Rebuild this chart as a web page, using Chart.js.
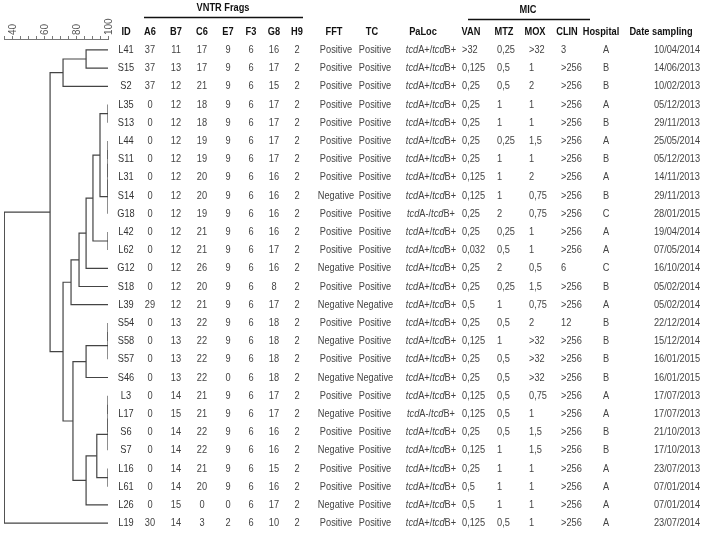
<!DOCTYPE html>
<html>
<head>
<meta charset="utf-8">
<script src="https://cdn.jsdelivr.net/npm/chart.js@4.4.0/dist/chart.umd.min.js"></script>
<style>
body { margin: 0; background: #fff; }
#wrap { width: 702px; height: 534px; }
</style>
</head>
<body>
<div id="wrap"><canvas id="dendro" width="702" height="534"></canvas></div>
<script>
// isolates, top to bottom
const ids = ["L41","S15","S2","L35","S13","L44","S11","L31","S14","G18","L42","L62","G12","S18","L39",
    "S54","S58","S57","S46","L3","L17","S6","S7","L16","L61","L26","L19"];

// VNTR fragments
const a6 = [37,37,37,0,0,0,0,0,0,0,0,0,0,0,29,0,0,0,0,0,0,0,0,0,0,0,30];
const b7 = [11,13,12,12,12,12,12,12,12,12,12,12,12,12,12,13,13,13,13,14,15,14,14,14,14,15,14];
const c6 = [17,17,21,18,18,19,19,20,20,19,21,21,26,20,21,22,22,22,22,21,21,22,22,21,20,0,3];
const e7 = [9,9,9,9,9,9,9,9,9,9,9,9,9,9,9,9,9,9,0,9,9,9,9,9,9,0,2];
const f3 = [6,6,6,6,6,6,6,6,6,6,6,6,6,6,6,6,6,6,6,6,6,6,6,6,6,6,6];
const g8 = [16,17,15,17,17,17,17,16,16,16,16,17,16,8,17,18,18,18,18,17,17,16,16,15,16,17,10];
const h9 = [2,2,2,2,2,2,2,2,2,2,2,2,2,2,2,2,2,2,2,2,2,2,2,2,2,2,2];

const fft = ["Positive","Positive","Positive","Positive","Positive","Positive","Positive","Positive","Negative",
    "Positive","Positive","Positive","Negative","Positive","Negative","Positive","Negative","Positive","Negative",
    "Positive","Negative","Positive","Negative","Positive","Positive","Negative","Positive"];
const tc = ["Positive","Positive","Positive","Positive","Positive","Positive","Positive","Positive","Positive",
    "Positive","Positive","Positive","Positive","Positive","Negative","Positive","Positive","Positive","Negative",
    "Positive","Positive","Positive","Positive","Positive","Positive","Positive","Positive"];
const tcdA = ["+","+","+","+","+","+","+","+","+","-","+","+","+","+","+","+","+","+","+","+","-","+","+","+","+","+","+"];
const tcdB = ["+","+","+","+","+","+","+","+","+","+","+","+","+","+","+","+","+","+","+","+","+","+","+","+","+","+","+"];

// MIC
const van = [">32","0,125","0,25","0,25","0,25","0,25","0,25","0,125","0,125","0,25","0,25","0,032","0,25","0,25",
    "0,5","0,25","0,125","0,25","0,25","0,125","0,125","0,25","0,125","0,25","0,5","0,5","0,125"];
const mtz = ["0,25","0,5","0,5","1","1","0,25","1","1","1","2","0,25","0,5","2","0,25","1","0,5","1","0,5","0,5",
    "0,5","0,5","0,5","1","1","1","1","0,5"];
const mox = [">32","1","2","1","1","1,5","1","2","0,75","0,75","1","1","0,5","1,5","0,75","2",">32",">32",">32",
    "0,75","1","1,5","1,5","1","1","1","1"];
const clin = ["3",">256",">256",">256",">256",">256",">256",">256",">256",">256",">256",">256","6",">256",">256",
    "12",">256",">256",">256",">256",">256",">256",">256",">256",">256",">256",">256"];
const hospital = ["A","B","B","A","B","A","B","A","B","C","A","A","C","B","A","B","B","B","B","A","A","B","B","A","A","A","A"];
const dates = ["10/04/2014","14/06/2013","10/02/2013","05/12/2013","29/11/2013","25/05/2014","05/12/2013","14/11/2013",
    "29/11/2013","28/01/2015","19/04/2014","07/05/2014","16/10/2014","05/02/2014","05/02/2014","22/12/2014",
    "15/12/2014","16/01/2015","16/01/2015","17/07/2013","17/07/2013","21/10/2013","17/10/2013","23/07/2013",
    "07/01/2014","07/01/2014","23/07/2014"];

// dendrogram merges, hclust style: negative = leaf number (1-based), positive = earlier merge
const mergeA = [-4,-6, 2, 3, 4,-11,-16, 7,-20, 9,10,-24,-1, 1,14,15,16,17, 8,11,20,19,18,13,24,25];
const mergeB = [-5,-7,-8,-9,-10,-12,-17,-18,-21,-22,-23,-25,-2, 5, 6,-13,-14,-15,-19,12,-26,21,22,-3,23,-27];
const mergeSim = [100,100,100,100,100,100,100,100,100,100,100,100,86.3,95,90.6,86.3,81.9,76.9,86.3,93,86.3,78.1,71.9,71.9,63.8,35.2];

// similarity axis
const simMin = 35;
const simMax = 100;
const simLabels = [40, 60, 80, 100];

var nodeY = [];
function childY(c){ return c < 0 ? (-c - 1) : nodeY[c - 1]; }
function childX(c){ return c < 0 ? 100 : mergeSim[c - 1]; }

var links = [];
for (var k = 0; k < mergeA.length; k++) {
    var ya = childY(mergeA[k]), yb = childY(mergeB[k]);
    nodeY.push((ya + yb) / 2);
    links.push({
        data: [
            {x: childX(mergeA[k]), y: ya},
            {x: mergeSim[k], y: ya},
            {x: mergeSim[k], y: yb},
            {x: childX(mergeB[k]), y: yb}
        ],
        showLine: true,
        borderColor: "#444",
        borderWidth: 1.2,
        pointRadius: 0,
        fill: false
    });
}

const fam = '"Liberation Sans", Arial, sans-serif';
const squeeze = 0.84; // fake a narrow face

// table columns: where each text column sits
const cols = [
    {head: "ID", vals: ids, x: 126, align: "center", color: "#333"},
    {head: "A6", vals: a6, x: 150, align: "center"},
    {head: "B7", vals: b7, x: 176, align: "center"},
    {head: "C6", vals: c6, x: 202, align: "center"},
    {head: "E7", vals: e7, x: 228, align: "center"},
    {head: "F3", vals: f3, x: 251, align: "center"},
    {head: "G8", vals: g8, x: 274, align: "center"},
    {head: "H9", vals: h9, x: 297, align: "center"},
    {head: "FFT", vals: fft, x: 336, align: "center", hx: 334},
    {head: "TC", vals: tc, x: 375, align: "center", hx: 372},
    {head: "VAN", vals: van, x: 462, align: "left", hx: 471},
    {head: "MTZ", vals: mtz, x: 497, align: "left", hx: 504},
    {head: "MOX", vals: mox, x: 529, align: "left", hx: 535},
    {head: "CLIN", vals: clin, x: 561, align: "left", hx: 567},
    {head: "Hospital", vals: hospital, x: 606, align: "center", hx: 601},
    {head: "Date sampling", vals: dates, x: 677, align: "center", hx: 661}
];

function narrowText(ctx, txt, x, y, align){
    var w = ctx.measureText(txt).width * squeeze;
    var left = align === "center" ? x - w / 2 : (align === "right" ? x - w : x);
    ctx.save();
    ctx.translate(left, y);
    ctx.scale(squeeze, 1);
    ctx.textAlign = "left";
    ctx.fillText(txt, 0, 0);
    ctx.restore();
    return w;
}

const tablePlugin = {
    id: "table",
    afterDraw: function(chart){
        var ctx = chart.ctx;
        var ys = chart.scales.y;
        ctx.save();
        ctx.textBaseline = "middle";

        // group headers
        ctx.fillStyle = "#111";
        ctx.font = "bold 11px " + fam;
        narrowText(ctx, "VNTR Frags", 223, 8, "center");
        narrowText(ctx, "MIC", 528, 10, "center");
        ctx.strokeStyle = "#111";
        ctx.lineWidth = 1.5;
        ctx.beginPath();
        ctx.moveTo(144, 17.5); ctx.lineTo(303, 17.5);
        ctx.moveTo(468, 19.5); ctx.lineTo(590, 19.5);
        ctx.stroke();

        // column headers
        cols.forEach(function(c){
            narrowText(ctx, c.head, c.hx || c.x, 32, "center");
        });
        narrowText(ctx, "PaLoc", 423, 32, "center");

        // body
        ctx.font = "11px " + fam;
        cols.forEach(function(c){
            ctx.fillStyle = c.color || "#444";
            c.vals.forEach(function(v, i){
                narrowText(ctx, String(v), c.x, ys.getPixelForValue(i), c.align);
            });
        });

        // PaLoc with italic gene names
        ctx.fillStyle = "#444";
        var it = "italic 11px " + fam, rm = "11px " + fam;
        for (var i = 0; i < ids.length; i++) {
            var parts = [["tcd", it], ["A" + tcdA[i] + "/", rm], ["tcd", it], ["B" + tcdB[i], rm]];
            var w = 0;
            parts.forEach(function(p){ ctx.font = p[1]; w += ctx.measureText(p[0]).width * squeeze; });
            var x = 431 - w / 2, y = ys.getPixelForValue(i);
            parts.forEach(function(p){ ctx.font = p[1]; x += narrowText(ctx, p[0], x, y, "left"); });
        }
        ctx.restore();
    }
};

const dendroChart = new Chart("dendro", {
    type: "scatter",
    data: { datasets: links },
    options: {
        responsive: false,
        animation: false,
        devicePixelRatio: 1,
        layout: { padding: { left: 4, right: 594, top: 0, bottom: 0 } },
        plugins: { legend: { display: false }, tooltip: { enabled: false } },
        scales: {
            x: {
                type: "linear",
                position: "top",
                min: simMin,
                max: simMax,
                afterFit: function(scale){
                    scale.height = 39;
                    scale.paddingLeft = 0;
                    scale.paddingRight = 0;
                },
                border: { display: true, color: "#777", width: 1 },
                grid: { display: true, drawOnChartArea: false, drawTicks: true, tickLength: 3, color: "#777" },
                ticks: {
                    stepSize: 5,
                    autoSkip: false,
                    minRotation: 90,
                    maxRotation: 90,
                    padding: 1,
                    labelOffset: 13,
                    color: "#555",
                    font: { size: 10, family: fam },
                    callback: function(v){ return simLabels.indexOf(v) >= 0 ? String(v) : ""; }
                }
            },
            y: {
                type: "linear",
                display: false,
                reverse: true,
                min: -0.6,
                max: 26.6
            }
        }
    },
    plugins: [tablePlugin]
});
console.log("Chart is " + dendroChart);
</script>
</body>
</html>
